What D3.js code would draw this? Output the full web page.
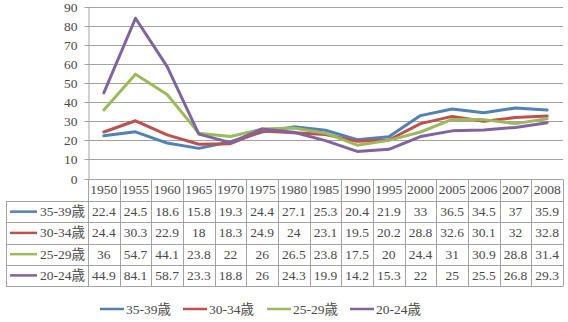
<!DOCTYPE html>
<html><head><meta charset="utf-8">
<script src="https://cdn.jsdelivr.net/npm/d3@7"></script>
<style>
html,body{margin:0;padding:0;background:#fff;}
svg{display:block;}
</style></head>
<body>
<svg id="c" width="568" height="322"></svg>
<script>
const years = ["1950","1955","1960","1965","1970","1975","1980","1985","1990","1995","2000","2005","2006","2007","2008"];
const seriesNames = ["35-39歳","30-34歳","25-29歳","20-24歳"];
const s3539 = [22.4,24.5,18.6,15.8,19.3,24.4,27.1,25.3,20.4,21.9,33,36.5,34.5,37,35.9];
const s3034 = [24.4,30.3,22.9,18,18.3,24.9,24,23.1,19.5,20.2,28.8,32.6,30.1,32,32.8];
const s2529 = [36,54.7,44.1,23.8,22,26,26.5,23.8,17.5,20,24.4,31,30.9,28.8,31.4];
const s2024 = [44.9,84.1,58.7,23.3,18.8,26,24.3,19.9,14.2,15.3,22,25,25.5,26.8,29.3];
const yTicks = [0,10,20,30,40,50,60,70,80,90];
const colors = ["#4f81bd","#c0504d","#9bbb59","#8064a2"];

const FONT = "'Liberation Serif','DejaVu Serif','Noto Sans CJK JP',serif";
const TXT = "#4a4a4a";
const series = seriesNames.map((n,i)=>({name:n, values:[s3539,s3034,s2529,s2024][i], color:colors[i]}));

const svg = d3.select("#c");
const L=88, R=563, T=7, B=178.5;
const x = d3.scaleBand().domain(years).range([L,R]);
const y = d3.scaleLinear().domain([0,90]).range([B,T]);
const grid="#a3a3a3";

function styleText(sel){ return sel.style("font-family",FONT).style("font-size","13.5px").style("fill",TXT); }

// gridlines
svg.append("g").selectAll("line").data(yTicks.filter(d=>d>0)).join("line")
  .attr("x1",L).attr("x2",R)
  .attr("y1",d=>Math.round(y(d))+0.5).attr("y2",d=>Math.round(y(d))+0.5)
  .attr("stroke",grid).attr("stroke-width",1);

// y axis
const ya = svg.append("g").attr("transform",`translate(${L+0.5},0)`)
  .call(d3.axisLeft(y).tickValues(yTicks).tickSize(4).tickSizeOuter(0).tickPadding(7));
ya.select(".domain").attr("stroke",grid);
ya.selectAll(".tick line").attr("stroke",grid);
styleText(ya.selectAll("text"));
ya.selectAll(".tick").attr("transform",d=>`translate(0,${Math.round(y(d))+0.5})`);

// table
const rowTop=[178.5,201,222.3,243.5,264.8,286];
const tg = svg.append("g");
tg.append("line").attr("x1",L).attr("x2",R).attr("y1",Math.round(B)+0.5).attr("y2",Math.round(B)+0.5).attr("stroke",grid);
rowTop.slice(1).forEach(yy=>{
  tg.append("line").attr("x1",6).attr("x2",R).attr("y1",Math.round(yy)+0.5).attr("y2",Math.round(yy)+0.5).attr("stroke",grid);
});
years.forEach(yr=>{
  const xx=Math.round(x(yr))+0.5;
  tg.append("line").attr("x1",xx).attr("x2",xx).attr("y1",Math.round(B)+0.5).attr("y2",286.5).attr("stroke",grid);
});
tg.append("line").attr("x1",R+0.5).attr("x2",R+0.5).attr("y1",Math.round(B)+0.5).attr("y2",286.5).attr("stroke",grid);
tg.append("line").attr("x1",6.5).attr("x2",6.5).attr("y1",201.5).attr("y2",286.5).attr("stroke",grid);

styleText(tg.selectAll("text.h").data(years).join("text").attr("class","h")
  .attr("x",d=>x(d)+x.bandwidth()/2).attr("y",(rowTop[0]+rowTop[1])/2)
  .attr("text-anchor","middle").attr("dominant-baseline","central").text(d=>d));

series.forEach((s,si)=>{
  const cy=(rowTop[si+1]+rowTop[si+2])/2;
  tg.append("line").attr("x1",10).attr("x2",37).attr("y1",cy).attr("y2",cy)
    .attr("stroke",s.color).attr("stroke-width",2.5);
  styleText(tg.append("text").attr("x",40).attr("y",cy).attr("dominant-baseline","central").text(s.name));
  styleText(tg.selectAll(null).data(s.values).join("text")
    .attr("x",(d,i)=>x(years[i])+x.bandwidth()/2).attr("y",cy)
    .attr("text-anchor","middle").attr("dominant-baseline","central").text(d=>d));
});

// lines
const line = d3.line().x((d,i)=>x(years[i])+x.bandwidth()/2).y(d=>y(d));
svg.append("g").selectAll("path").data(series).join("path")
  .attr("d",d=>line(d.values)).attr("fill","none").attr("stroke",d=>d.color)
  .attr("stroke-width",3).attr("stroke-linejoin","round").attr("stroke-linecap","round");

// bottom legend
const legX=[100,183,267,350];
const lg = svg.append("g");
series.forEach((s,i)=>{
  lg.append("line").attr("x1",legX[i]).attr("x2",legX[i]+24).attr("y1",309).attr("y2",309)
    .attr("stroke",s.color).attr("stroke-width",2.5);
  styleText(lg.append("text").attr("x",legX[i]+26).attr("y",309).attr("dominant-baseline","central").text(s.name));
});
</script>
</body></html>
